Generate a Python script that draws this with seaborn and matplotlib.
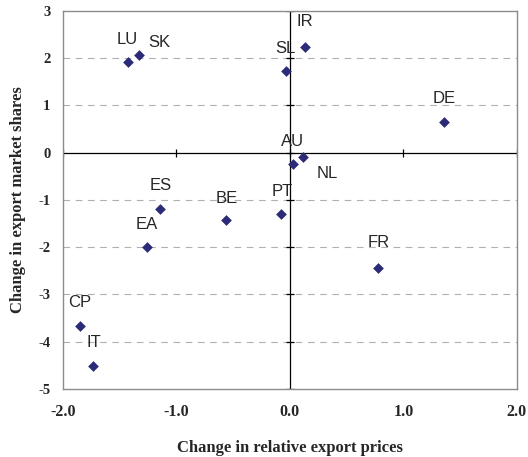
import numpy as np
import pandas as pd
import seaborn as sns
import matplotlib.pyplot as plt

countries = ["LU", "SK", "IR", "SL", "DE", "AU", "NL", "ES", "BE", "PT", "EA", "FR", "CP", "IT"]
price_change = [-1.43, -1.33, 0.13, -0.035, 1.36, 0.026, 0.12, -1.14, -0.56, -0.08, -1.26, 0.78, -1.85, -1.73]
share_change = [1.92, 2.07, 2.24, 1.73, 0.65, -0.24, -0.09, -1.19, -1.43, -1.30, -2.00, -2.44, -3.67, -4.51]
x_ticks = [-2.0, -1.0, 0.0, 1.0, 2.0]
y_ticks = [-5, -4, -3, -2, -1, 0, 1, 2, 3]

df = pd.DataFrame({"country": countries, "price": price_change, "share": share_change})

# label offsets in points (dx, dy)
offsets = {"LU": (0, 16), "SK": (15, 9), "IR": (0, 18), "SL": (0, 16), "DE": (0, 17),
           "AU": (0, 16), "NL": (17, -12), "ES": (0, 17), "BE": (0, 16), "PT": (1, 16),
           "EA": (0, 16), "FR": (0, 18), "CP": (0, 17), "IT": (0, 17)}

sns.set_style("white")
fig = plt.figure(figsize=(5.28, 4.57), dpi=100)
ax = fig.add_axes([0.119, 0.149, 0.860, 0.827])

for y in y_ticks:
    if y not in (0, -5, 3):
        ax.axhline(y, color="#b0b0b0", lw=0.8, ls=(0, (6, 5)), zorder=0)
ax.axhline(0, color="black", lw=0.9, zorder=1)
ax.axvline(0, color="black", lw=0.9, zorder=1)
# tick marks on the centre axes
ax.scatter([0] * len(y_ticks), y_ticks, marker="_", s=30, color="black", lw=0.9, zorder=1)
ax.scatter(x_ticks, [0] * len(x_ticks), marker="|", s=30, color="black", lw=0.9, zorder=1)

sns.scatterplot(data=df, x="price", y="share", marker="D", s=30, color="#2b2b78",
                edgecolor="#2b2b78", linewidth=0, ax=ax, zorder=3)

for c, xv, yv in zip(countries, price_change, share_change):
    ax.annotate(c, (xv, yv), xytext=offsets[c], textcoords="offset points",
                ha="center", va="center", fontsize=12, family="Liberation Sans")

ax.set_xlim(-2, 2)
ax.set_ylim(-5, 3)
ax.set_xticks(x_ticks)
ax.set_yticks(y_ticks)
ax.set_xticklabels([f"{v:.1f}" for v in x_ticks])
ax.set_yticklabels([str(v) for v in y_ticks])
ax.tick_params(length=0)
ax.tick_params(axis="x", pad=11)
ax.tick_params(axis="y", pad=9)
for lab in ax.get_xticklabels():
    lab.set_family("Liberation Serif")
    lab.set_fontweight("bold")
    lab.set_fontsize(11.5)
for lab in ax.get_yticklabels():
    lab.set_family("Liberation Serif")
    lab.set_fontweight("bold")
    lab.set_fontsize(10.5)
for sp in ax.spines.values():
    sp.set_color("#8c8c8c")
    sp.set_linewidth(1.0)

ax.set_xlabel("Change in relative export prices", family="Liberation Serif",
              fontweight="bold", fontsize=12, labelpad=14)
ax.set_ylabel("Change in export market shares", family="Liberation Serif",
              fontweight="bold", fontsize=12, labelpad=9)

fig.savefig("out.png", dpi=100)
